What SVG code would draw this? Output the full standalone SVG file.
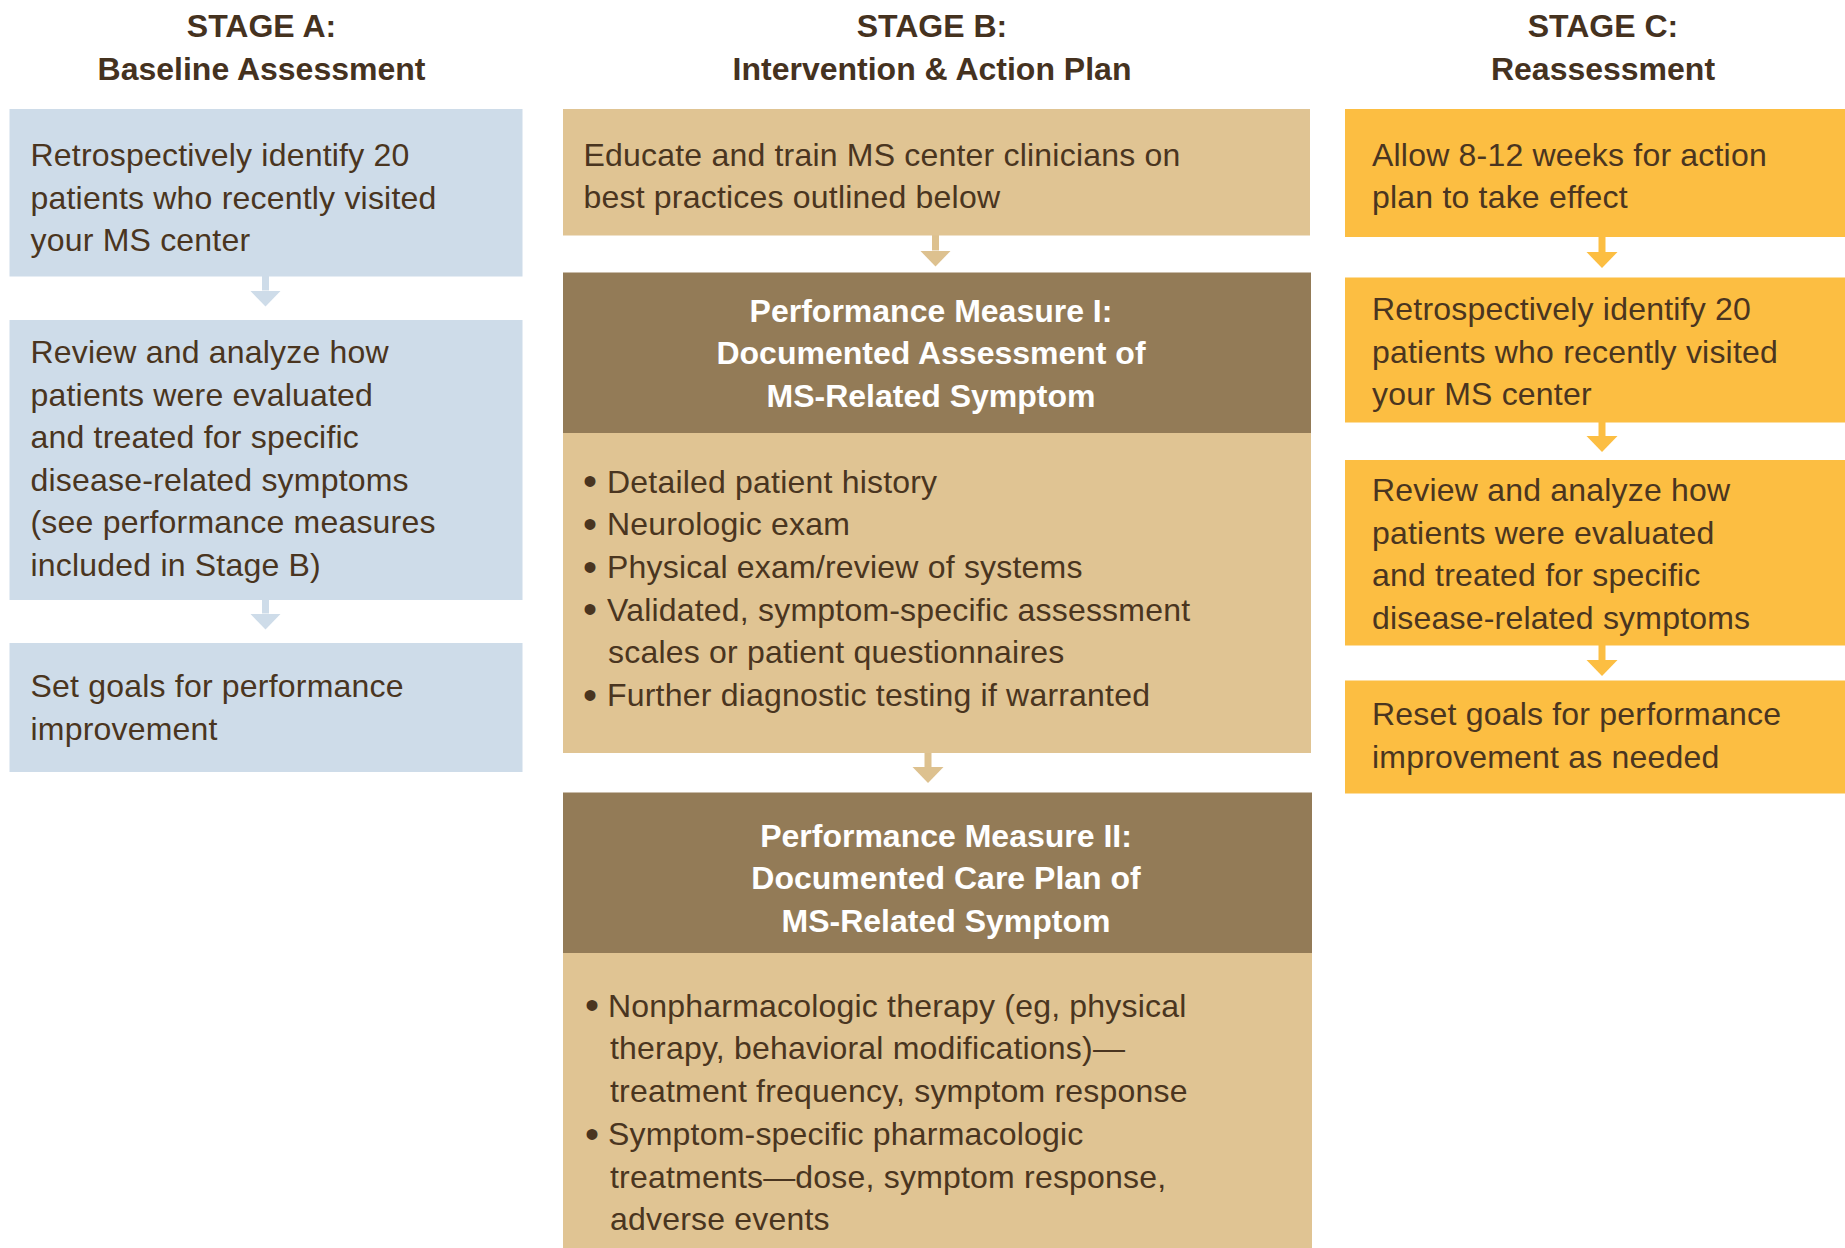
<svg xmlns="http://www.w3.org/2000/svg" width="1845" height="1248" viewBox="0 0 1845 1248">
<defs>
<style>
.hd{font-family:"Liberation Sans",Arial,sans-serif;font-weight:bold;font-size:32px;fill:#45321f;text-anchor:middle}
.tx{font-family:"Liberation Sans",Arial,sans-serif;font-size:32px;fill:#4a3520;letter-spacing:0.2px}
.bu{font-family:"Liberation Sans",Arial,sans-serif;font-size:40px;fill:#4a3520}
.wh{font-family:"Liberation Sans",Arial,sans-serif;font-weight:bold;font-size:32px;fill:#ffffff;text-anchor:middle}
.blue{fill:#cedce9}
.tan{fill:#e0c493}
.brown{fill:#937b57}
.yel{fill:#fcbe42}
.ca{stroke:#cedce9;stroke-width:7;fill:none}
.cb{stroke:#ddc18f;stroke-width:7;fill:none}
.cc{stroke:#fcbe42;stroke-width:7;fill:none}
</style>
<marker id="ha" viewBox="0 -16 17 32" refX="0" refY="0" markerWidth="17" markerHeight="32" markerUnits="userSpaceOnUse" orient="auto"><path d="M0,-15.5 L0,15.5 L16,0 Z" fill="#cedce9"/></marker>
<marker id="hb" viewBox="0 -16 17 32" refX="0" refY="0" markerWidth="17" markerHeight="32" markerUnits="userSpaceOnUse" orient="auto"><path d="M0,-15.5 L0,15.5 L16,0 Z" fill="#ddc18f"/></marker>
<marker id="hc" viewBox="0 -16 17 32" refX="0" refY="0" markerWidth="17" markerHeight="32" markerUnits="userSpaceOnUse" orient="auto"><path d="M0,-15.5 L0,15.5 L16,0 Z" fill="#fcbe42"/></marker>
</defs>
<rect width="1845" height="1248" fill="#ffffff"/>

<g id="headers">
<text class="hd" x="261.5" y="37">STAGE A:</text>
<text class="hd" x="261.5" y="80">Baseline Assessment</text>
<text class="hd" x="932" y="37">STAGE B:</text>
<text class="hd" x="932" y="80">Intervention &amp; Action Plan</text>
<text class="hd" x="1603" y="37">STAGE C:</text>
<text class="hd" x="1603" y="80">Reassessment</text>
</g>

<g id="connectors">
<line class="ca" x1="265.5" y1="276" x2="265.5" y2="290.5" marker-end="url(#ha)"/>
<line class="ca" x1="265.5" y1="600" x2="265.5" y2="613.5" marker-end="url(#ha)"/>
<line class="cb" x1="935.5" y1="235" x2="935.5" y2="250.5" marker-end="url(#hb)"/>
<line class="cb" x1="928" y1="753" x2="928" y2="767" marker-end="url(#hb)"/>
<line class="cc" x1="1602" y1="237" x2="1602" y2="252" marker-end="url(#hc)"/>
<line class="cc" x1="1602" y1="422" x2="1602" y2="436" marker-end="url(#hc)"/>
<line class="cc" x1="1602" y1="645" x2="1602" y2="660" marker-end="url(#hc)"/>
</g>

<g id="a1">
<rect class="blue" x="9.5" y="109" width="513" height="167.5"/>
<text class="tx" x="30.5" y="166">Retrospectively identify 20</text>
<text class="tx" x="30.5" y="208.5">patients who recently visited</text>
<text class="tx" x="30.5" y="251">your MS center</text>
</g>
<g id="a2">
<rect class="blue" x="9.5" y="320" width="513" height="280"/>
<text class="tx" x="30.5" y="363">Review and analyze how</text>
<text class="tx" x="30.5" y="405.5">patients were evaluated</text>
<text class="tx" x="30.5" y="448">and treated for specific</text>
<text class="tx" x="30.5" y="490.5">disease-related symptoms</text>
<text class="tx" x="30.5" y="533">(see performance measures</text>
<text class="tx" x="30.5" y="575.5">included in Stage B)</text>
</g>
<g id="a3">
<rect class="blue" x="9.5" y="643" width="513" height="129"/>
<text class="tx" x="30.5" y="697">Set goals for performance</text>
<text class="tx" x="30.5" y="740">improvement</text>
</g>

<g id="b1">
<rect class="tan" x="563" y="109" width="747" height="126.5"/>
<text class="tx" x="583.5" y="166">Educate and train MS center clinicians on</text>
<text class="tx" x="583.5" y="208">best practices outlined below</text>
</g>
<g id="b2">
<rect class="brown" x="563" y="272.5" width="748" height="160.5"/>
<text class="wh" x="931" y="321.5">Performance Measure I:</text>
<text class="wh" x="931" y="364">Documented Assessment of</text>
<text class="wh" x="931" y="407">MS-Related Symptom</text>
<rect class="tan" x="563" y="433" width="748" height="320"/>
<text class="bu" x="583" y="495">•</text><text class="tx" x="607" y="492.5">Detailed patient history</text>
<text class="bu" x="583" y="537.5">•</text><text class="tx" x="607" y="535">Neurologic exam</text>
<text class="bu" x="583" y="580.5">•</text><text class="tx" x="607" y="578">Physical exam/review of systems</text>
<text class="bu" x="583" y="623">•</text><text class="tx" x="607" y="620.5">Validated, symptom-specific assessment</text>
<text class="tx" x="608" y="663">scales or patient questionnaires</text>
<text class="bu" x="583" y="708.5">•</text><text class="tx" x="607" y="706">Further diagnostic testing if warranted</text>
</g>
<g id="b3">
<rect class="brown" x="563" y="792.5" width="749" height="160.5"/>
<text class="wh" x="946" y="846.5">Performance Measure II:</text>
<text class="wh" x="946" y="889">Documented Care Plan of</text>
<text class="wh" x="946" y="931.5">MS-Related Symptom</text>
<rect class="tan" x="563" y="953" width="749" height="295"/>
<text class="bu" x="585" y="1019">•</text><text class="tx" x="608" y="1016.5">Nonpharmacologic therapy (eg, physical</text>
<text class="tx" x="610" y="1059">therapy, behavioral modifications)—</text>
<text class="tx" x="610" y="1101.5">treatment frequency, symptom response</text>
<text class="bu" x="585" y="1147.5">•</text><text class="tx" x="608" y="1145">Symptom-specific pharmacologic</text>
<text class="tx" x="610" y="1187.5">treatments—dose, symptom response,</text>
<text class="tx" x="610" y="1230">adverse events</text>
</g>

<g id="c1">
<rect class="yel" x="1345" y="109" width="500" height="128"/>
<text class="tx" x="1372" y="166">Allow 8-12 weeks for action</text>
<text class="tx" x="1372" y="207.5">plan to take effect</text>
</g>
<g id="c2">
<rect class="yel" x="1345" y="277.5" width="500" height="145"/>
<text class="tx" x="1372" y="320">Retrospectively identify 20</text>
<text class="tx" x="1372" y="362.5">patients who recently visited</text>
<text class="tx" x="1372" y="405">your MS center</text>
</g>
<g id="c3">
<rect class="yel" x="1345" y="460" width="500" height="185.5"/>
<text class="tx" x="1372" y="501">Review and analyze how</text>
<text class="tx" x="1372" y="543.5">patients were evaluated</text>
<text class="tx" x="1372" y="586">and treated for specific</text>
<text class="tx" x="1372" y="629">disease-related symptoms</text>
</g>
<g id="c4">
<rect class="yel" x="1345" y="680.5" width="500" height="113"/>
<text class="tx" x="1372" y="725">Reset goals for performance</text>
<text class="tx" x="1372" y="767.5">improvement as needed</text>
</g>
</svg>
